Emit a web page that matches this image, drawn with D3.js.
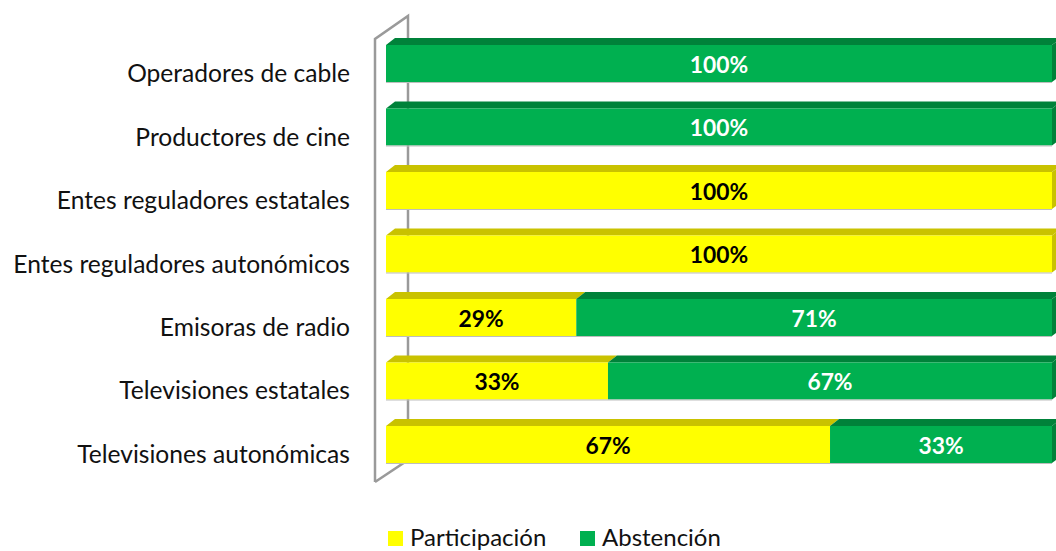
<!DOCTYPE html>
<html>
<head>
<meta charset="utf-8" />
<title>Participación / Abstención</title>
<style>
body { margin: 0; background: #fff; }
text { font-family: Lato, "Open Sans", sans-serif; }
</style>
</head>
<body>
<div id="chart"></div>
<script src="https://cdnjs.cloudflare.com/ajax/libs/d3/7.8.5/d3.min.js"></script>
<script>
// categories top to bottom
var categories = [
    "Operadores de cable",
    "Productores de cine",
    "Entes reguladores estatales",
    "Entes reguladores autonómicos",
    "Emisoras de radio",
    "Televisiones estatales",
    "Televisiones autonómicas"
]
var participacion = [0, 0, 100, 100, 28.57, 33.33, 66.67]
var abstencion = [100, 100, 0, 0, 71.43, 66.67, 33.33]
var seriesNames = ["Participación", "Abstención"]

!(function(){
    "use strict"

    var width = 1056, height = 551
    var dx = 9, dy = 7   // 3d depth
    var colors = {
        front: ["#ffff00", "#00b050"],
        top: ["#c9c200", "#00823a"],
        text: ["#000", "#fff"]
    }

    var svg = d3.select("#chart").append("svg")
        .attr("width", width).attr("height", height)

    var x = d3.scaleLinear().domain([0, 100]).range([386, 1052])
    var y = d3.scaleBand().domain(categories).range([45, 463]).paddingInner(0.417).paddingOuter(0)

    // wall
    var wall = svg.append("g").attr("fill", "none").attr("stroke", "#9a9a9a").attr("stroke-width", 2.5)
    wall.append("path").attr("d", "M375,482 L375,39 L408,16 L408,460 L375,482")

    var stacked = categories.map(function(c, i) {
        return [
            {cat: c, s: 0, x0: 0, x1: participacion[i]},
            {cat: c, s: 1, x0: participacion[i], x1: participacion[i] + abstencion[i]}
        ].filter(function(d) { return d.x1 > d.x0 })
    })

    var rows = svg.append("g").selectAll("g").data(stacked).enter().append("g")

    // top faces
    rows.selectAll("path.top").data(function(d) { return d }).enter().append("path")
        .attr("class", "top")
        .attr("fill", function(d) { return colors.top[d.s] })
        .attr("d", function(d) {
            var y0 = y(d.cat), a = x(d.x0), b = x(d.x1)
            return "M" + a + "," + y0 + "L" + (a + dx) + "," + (y0 - dy) + "L" + (b + dx) + "," + (y0 - dy) + "L" + b + "," + y0 + "Z"
        })

    // side faces (right end)
    rows.selectAll("path.side").data(function(d) { return d.slice(-1) }).enter().append("path")
        .attr("class", "side")
        .attr("fill", function(d) { return colors.top[d.s] })
        .attr("d", function(d) {
            var y0 = y(d.cat), b = x(d.x1), h = y.bandwidth()
            return "M" + b + "," + y0 + "L" + (b + dx) + "," + (y0 - dy) + "L" + (b + dx) + "," + (y0 + h - dy) + "L" + b + "," + (y0 + h) + "Z"
        })

    // front faces
    rows.selectAll("rect").data(function(d) { return d }).enter().append("rect")
        .attr("x", function(d) { return x(d.x0) })
        .attr("y", function(d) { return y(d.cat) })
        .attr("width", function(d) { return x(d.x1) - x(d.x0) })
        .attr("height", y.bandwidth())
        .attr("fill", function(d) { return colors.front[d.s] })

    // bottom edge shade
    rows.append("line")
        .attr("x1", x(0)).attr("x2", x(100))
        .attr("y1", function(d) { return y(d[0].cat) + y.bandwidth() + 0.5 })
        .attr("y2", function(d) { return y(d[0].cat) + y.bandwidth() + 0.5 })
        .attr("stroke", "#bdbdbd").attr("stroke-width", 1)

    // value labels
    rows.selectAll("text").data(function(d) { return d }).enter().append("text")
        .attr("x", function(d) { return (x(d.x0) + x(d.x1)) / 2 })
        .attr("y", function(d) { return y(d.cat) + y.bandwidth() / 2 + 1 })
        .attr("dy", "0.36em")
        .attr("text-anchor", "middle")
        .attr("font-weight", "bold")
        .attr("font-size", 22.8)
        .attr("fill", function(d) { return colors.text[d.s] })
        .text(function(d) { return d3.format(".0f")(d.x1 - d.x0) + "%" })

    // category labels
    svg.append("g").selectAll("text").data(categories).enter().append("text")
        .attr("x", 350)
        .attr("y", function(d) { return y(d) + y.bandwidth() / 2 + 18.5 })
        .attr("text-anchor", "end")
        .attr("font-size", 24.6)
        .attr("fill", "#111")
        .text(function(d) { return d })

    // legend
    var legend = svg.append("g").selectAll("g").data(seriesNames).enter().append("g")
        .attr("transform", function(d, i) { return "translate(" + [388 + i * 192, 531] + ")" })
    legend.append("rect").attr("width", 15).attr("height", 15)
        .attr("fill", function(d, i) { return colors.front[i] })
    legend.append("text").attr("x", 22).attr("y", 15)
        .attr("font-size", 24).attr("fill", "#111")
        .text(function(d) { return d })
}());
</script>
</body>
</html>
